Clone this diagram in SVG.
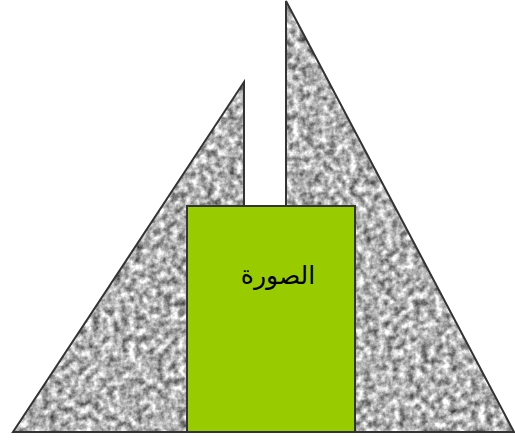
<svg xmlns="http://www.w3.org/2000/svg" width="515" height="440" viewBox="0 0 515 440">
<defs>
<filter id="granite" x="0" y="0" width="1" height="1" color-interpolation-filters="sRGB">
<feTurbulence type="fractalNoise" baseFrequency="0.14" numOctaves="3" seed="4" result="n"/>
<feColorMatrix in="n" type="matrix" values="1.15 0 0 0 0.12  1.15 0 0 0 0.12  1.15 0 0 0 0.12  0 0 0 0 1" result="g"/>
<feComposite in="g" in2="SourceGraphic" operator="in"/>
</filter>
</defs>
<style>
.tri{fill:#999;filter:url(#granite)}
.edge{fill:none;stroke:#333;stroke-width:2;stroke-linejoin:miter}
.box{fill:#99cc00;stroke:#333;stroke-width:2}
.lbl{font-family:"DejaVu Sans","Noto Sans",sans-serif;font-size:25px;fill:#000;text-anchor:middle}
</style>
<g id="left-triangle">
<polygon class="tri" points="244,82 244,432 13,432"/>
<polygon class="edge" points="244,82 244,432 13,432"/>
</g>
<g id="right-triangle">
<polygon class="tri" points="286,1 514,432 286,432"/>
<polygon class="edge" points="286,1 514,432 286,432"/>
</g>
<g id="picture-box">
<rect class="box" x="187" y="206" width="168" height="226"/>
<text class="lbl" x="278" y="284" direction="rtl">الصورة</text>
</g>
</svg>
